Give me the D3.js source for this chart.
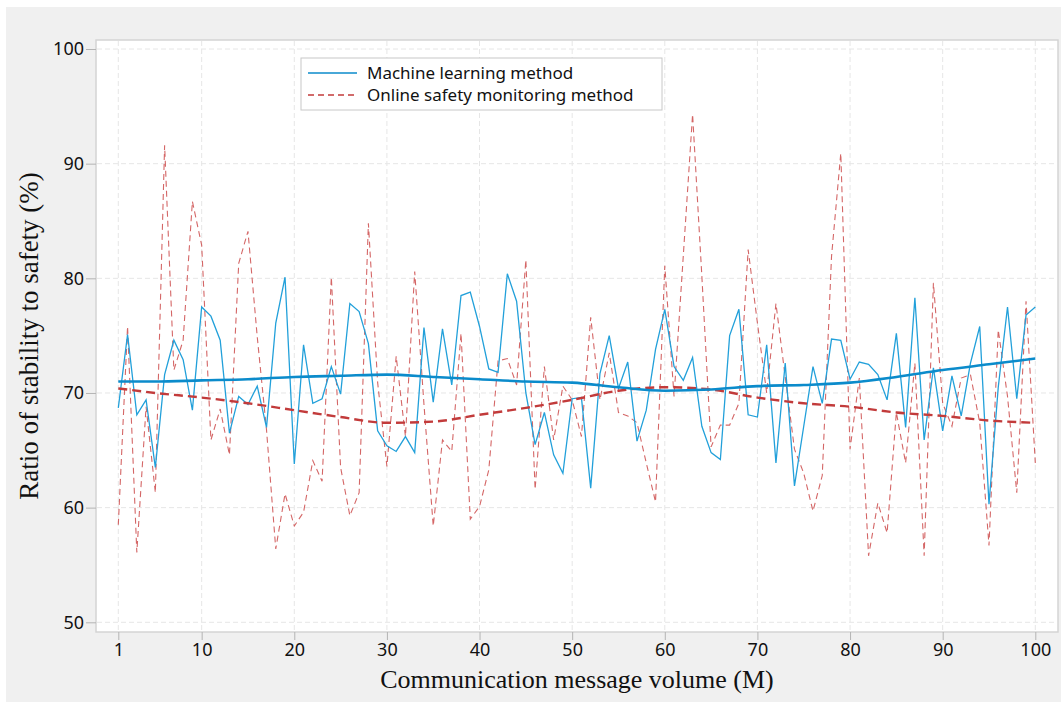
<!DOCTYPE html>
<html>
<head>
<meta charset="utf-8">
<script src="https://cdn.jsdelivr.net/npm/d3@7"></script>
<style>
  body { margin: 0; background: #ffffff; }
</style>
</head>
<body>
<div id="container"></div>
<script>
/* DATA */
const volumes = d3.range(1, 101);

const machineLearning = [
  68.7, 75.1, 68.1, 69.4, 63.5, 71.6, 74.6, 72.9, 68.5, 77.5,
  76.7, 74.6, 66.5, 69.7, 69.0, 70.6, 67.0, 76.1, 80.1, 63.8,
  74.2, 69.1, 69.5, 72.3, 69.9, 77.8, 77.1, 74.3, 66.7, 65.4,
  64.9, 66.2, 64.8, 75.7, 69.2, 75.6, 70.7, 78.5, 78.8, 75.8,
  72.1, 71.8, 80.4, 78.0, 70.0, 65.5, 68.3, 64.6, 63.0, 69.5,
  69.6, 61.7, 71.7, 75.0, 70.4, 72.7, 65.8, 68.5, 73.8, 77.3,
  72.3, 71.1, 73.1, 67.1, 64.8, 64.2, 75.0, 77.3, 68.1, 67.9,
  74.2, 63.9, 72.6, 61.9, 67.1, 72.3, 69.1, 74.7, 74.6, 71.2,
  72.7, 72.5, 71.6, 69.4, 75.2, 67.0, 78.3, 65.9, 72.2, 66.7,
  71.5, 68.0, 72.6, 75.8, 60.3, 70.5, 77.5, 69.5, 76.8, 77.5
];

const onlineMonitoring = [
  58.5, 75.8, 56.1, 68.8, 61.3, 91.6, 72.0, 74.6, 86.7, 82.9,
  65.9, 68.6, 64.6, 81.3, 84.1, 74.9, 66.8, 56.4, 61.2, 58.4,
  59.6, 64.1, 62.3, 80.1, 63.5, 59.3, 61.3, 84.8, 70.9, 63.6,
  73.2, 66.2, 80.6, 69.0, 58.4, 65.9, 64.9, 75.2, 59.0, 60.1,
  63.3, 72.8, 73.0, 70.7, 81.6, 61.6, 72.3, 65.9, 70.6, 69.4,
  66.2, 76.6, 69.4, 73.5, 68.3, 68.0, 67.4, 63.9, 60.5, 81.1,
  69.7, 82.0, 94.3, 80.2, 65.3, 67.2, 67.2, 69.1, 82.5, 76.1,
  70.0, 77.8, 71.4, 65.1, 63.0, 59.7, 62.8, 81.9, 90.9, 65.1,
  71.3, 55.8, 60.4, 57.8, 68.3, 63.9, 72.6, 55.8, 79.6, 69.1,
  67.1, 71.3, 71.6, 67.4, 56.7, 75.5, 69.7, 61.3, 78.0, 63.9
];

// smoothed trend every 5 units
const trendVolumes = [1, 5, 10, 15, 20, 25, 30, 35, 40, 45, 50, 55, 60, 65, 70, 75, 80, 85, 90, 95, 100];
const machineTrend = [71.0, 71.0, 71.1, 71.2, 71.4, 71.5, 71.6, 71.4, 71.2, 71.0, 70.9, 70.5, 70.2, 70.3, 70.6, 70.7, 70.9, 71.4, 72.0, 72.5, 73.0];
const onlineTrend = [70.4, 70.0, 69.6, 69.1, 68.5, 67.9, 67.4, 67.5, 68.1, 68.7, 69.4, 70.2, 70.5, 70.3, 69.6, 69.1, 68.8, 68.3, 68.0, 67.6, 67.4];

const xTicks = [1, 10, 20, 30, 40, 50, 60, 70, 80, 90, 100];
const yTicks = [50, 60, 70, 80, 90, 100];
const seriesNames = ["Machine learning method", "Online safety monitoring method"];

/* CONSTANTS */
const width = 1061, height = 702;
const plot = { left: 96, right: 1058, top: 40, bottom: 632 };

const svg = d3.select("#container")
  .append("svg")
  .attr("width", width)
  .attr("height", height);

// grey panel behind the chart
svg.append("rect")
  .attr("x", 6).attr("y", 7)
  .attr("width", width - 6).attr("height", height - 7)
  .attr("fill", "#f0f0f0");

svg.append("rect")
  .attr("x", plot.left).attr("y", plot.top)
  .attr("width", plot.right - plot.left).attr("height", plot.bottom - plot.top)
  .attr("fill", "#ffffff")
  .attr("stroke", "#d4d4d4")
  .attr("stroke-width", 1.5);

/* SCALES */
const xScale = d3.scaleLinear().domain([1, 100]).range([118.3, 1035.3]);
const yScale = d3.scaleLinear().domain([50, 100]).range([622.3, 49]);

// GRID
svg.append("g")
  .selectAll("line")
  .data(xTicks)
  .join("line")
  .attr("x1", d => xScale(d)).attr("x2", d => xScale(d))
  .attr("y1", plot.top + 1).attr("y2", plot.bottom - 1)
  .attr("stroke", "#e6e6e6")
  .attr("stroke-dasharray", "5,3");

svg.append("g")
  .selectAll("line")
  .data(yTicks)
  .join("line")
  .attr("x1", plot.left + 1).attr("x2", plot.right - 1)
  .attr("y1", d => yScale(d)).attr("y2", d => yScale(d))
  .attr("stroke", "#e6e6e6")
  .attr("stroke-dasharray", "5,3");

/* AXES */
const xAxis = d3.axisBottom(xScale)
  .tickValues(xTicks)
  .tickSize(8)
  .tickPadding(3)
  .tickFormat(d3.format("d"));

svg.append("g")
  .attr("class", "x-axis")
  .attr("transform", `translate(0,${plot.bottom})`)
  .call(xAxis)
  .call(g => g.select(".domain").remove());

const yAxis = d3.axisLeft(yScale)
  .tickValues(yTicks)
  .tickSize(10)
  .tickPadding(2)
  .tickFormat(d3.format("d"));

svg.append("g")
  .attr("class", "y-axis")
  .attr("transform", `translate(${plot.left},0)`)
  .call(yAxis)
  .call(g => g.select(".domain").remove());

svg.selectAll(".x-axis line, .y-axis line").attr("stroke", "#b4b4b4");
svg.selectAll(".x-axis text, .y-axis text")
  .attr("fill", "#111")
  .style("font-family", "'Noto Sans', sans-serif")
  .style("font-size", "18px");

/* LINES */
const rawLine = d3.line()
  .x((d, i) => xScale(volumes[i]))
  .y(d => yScale(d));

const trendLine = d3.line()
  .x((d, i) => xScale(trendVolumes[i]))
  .y(d => yScale(d))
  .curve(d3.curveMonotoneX);

svg.append("path")
  .datum(onlineMonitoring)
  .attr("d", rawLine)
  .attr("fill", "none")
  .attr("stroke", "#cd4b4b")
  .attr("stroke-opacity", 0.85)
  .attr("stroke-width", 1.1)
  .attr("stroke-dasharray", "6,4");

svg.append("path")
  .datum(machineLearning)
  .attr("d", rawLine)
  .attr("fill", "none")
  .attr("stroke", "#22a0da")
  .attr("stroke-width", 1.3);

svg.append("path")
  .datum(onlineTrend)
  .attr("d", trendLine)
  .attr("fill", "none")
  .attr("stroke", "#c23b3b")
  .attr("stroke-width", 2.4)
  .attr("stroke-dasharray", "9,5");

svg.append("path")
  .datum(machineTrend)
  .attr("d", trendLine)
  .attr("fill", "none")
  .attr("stroke", "#0b8bcb")
  .attr("stroke-width", 2.6);

/* LEGEND */
const legend = svg.append("g").attr("transform", "translate(301,58)");

legend.append("rect")
  .attr("width", 361).attr("height", 52)
  .attr("fill", "#ffffff")
  .attr("stroke", "#c8c8c8");

const legendRows = legend.selectAll("g.row")
  .data(seriesNames)
  .join("g")
  .attr("class", "row")
  .attr("transform", (d, i) => `translate(0,${15 + i * 22})`);

legendRows.append("line")
  .attr("x1", 7).attr("x2", 56)
  .attr("stroke", (d, i) => i === 0 ? "#0b8bcb" : "#c23b3b")
  .attr("stroke-width", 1.6)
  .attr("stroke-dasharray", (d, i) => i === 0 ? null : "6,4");

legendRows.append("text")
  .attr("x", 66)
  .attr("dy", "0.35em")
  .style("font-family", "'Noto Sans', sans-serif")
  .style("font-size", "17px")
  .attr("fill", "#111")
  .text(d => d);

//AXIS TITLES
svg.append("text")
  .attr("text-anchor", "middle")
  .attr("x", (plot.left + plot.right) / 2)
  .attr("y", 688)
  .style("font-family", "'Liberation Serif', 'Times New Roman', serif")
  .style("font-size", "26px")
  .attr("fill", "#111")
  .text("Communication message volume (M)");

svg.append("text")
  .attr("text-anchor", "middle")
  .attr("transform", `translate(38,${(plot.top + plot.bottom) / 2}) rotate(-90)`)
  .style("font-family", "'Liberation Serif', 'Times New Roman', serif")
  .style("font-size", "27px")
  .attr("fill", "#111")
  .text("Ratio of stability to safety (%)");
</script>
</body>
</html>
